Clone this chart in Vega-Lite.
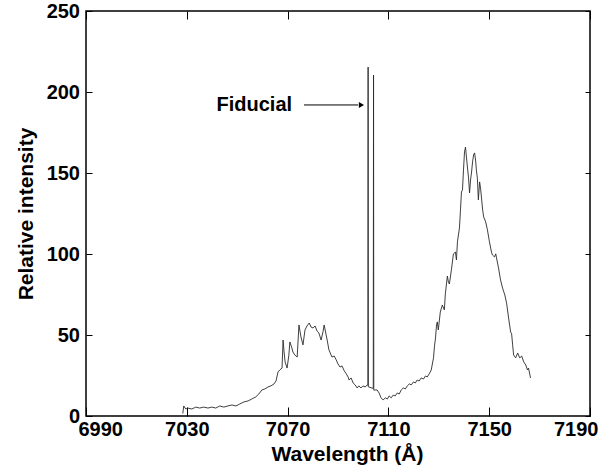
{
  "$schema": "https://vega.github.io/schema/vega-lite/v6.json",
  "autosize": "none",
  "width": 504,
  "height": 405,
  "padding": {"left": 86, "top": 11, "right": 23, "bottom": 51},
  "background": "white",
  "config": {
    "view": {"stroke": "#000", "strokeWidth": 1.5},
    "axis": {
      "labelFont": "Liberation Sans",
      "labelFontWeight": "bold",
      "labelFontSize": 20,
      "labelColor": "#000",
      "titleFont": "Liberation Sans",
      "titleFontWeight": "bold",
      "titleFontSize": 21,
      "titleColor": "#000",
      "tickColor": "#000",
      "domain": false,
      "grid": false
    }
  },
  "datasets": {
    "spectrum": [
      {"w": 7028.4, "i": 1.5}, {"w": 7028.8, "i": 6.2}, {"w": 7029.6, "i": 4.3}, {"w": 7030.4, "i": 4.9},
      {"w": 7032.0, "i": 4.3}, {"w": 7033.6, "i": 5.5}, {"w": 7035.1, "i": 4.9}, {"w": 7036.7, "i": 5.5},
      {"w": 7038.4, "i": 4.9}, {"w": 7039.9, "i": 5.5}, {"w": 7041.5, "i": 4.9}, {"w": 7043.1, "i": 6.2},
      {"w": 7044.7, "i": 5.5}, {"w": 7046.3, "i": 6.2}, {"w": 7047.9, "i": 6.8}, {"w": 7049.5, "i": 6.2},
      {"w": 7051.0, "i": 7.4}, {"w": 7052.7, "i": 8.7}, {"w": 7054.3, "i": 9.3}, {"w": 7055.8, "i": 10.5},
      {"w": 7057.4, "i": 11.8}, {"w": 7058.6, "i": 13.6}, {"w": 7059.8, "i": 16.1}, {"w": 7061.0, "i": 16.7},
      {"w": 7062.2, "i": 17.9}, {"w": 7063.4, "i": 18.6}, {"w": 7064.6, "i": 19.8}, {"w": 7065.4, "i": 21.6},
      {"w": 7066.2, "i": 27.2}, {"w": 7066.9, "i": 28.4}, {"w": 7067.8, "i": 29.6}, {"w": 7068.2, "i": 46.9},
      {"w": 7068.6, "i": 39.5}, {"w": 7069.0, "i": 33.4}, {"w": 7069.8, "i": 29.6}, {"w": 7070.5, "i": 37.6},
      {"w": 7070.9, "i": 45.7}, {"w": 7071.7, "i": 42.0}, {"w": 7072.1, "i": 39.5}, {"w": 7072.9, "i": 37.6},
      {"w": 7073.8, "i": 36.4}, {"w": 7074.5, "i": 56.2}, {"w": 7075.3, "i": 48.8}, {"w": 7076.1, "i": 43.9},
      {"w": 7076.9, "i": 53.1}, {"w": 7077.7, "i": 55.6}, {"w": 7078.6, "i": 57.4}, {"w": 7079.3, "i": 54.9},
      {"w": 7080.1, "i": 54.3}, {"w": 7080.9, "i": 55.6}, {"w": 7081.7, "i": 52.4}, {"w": 7082.4, "i": 51.3},
      {"w": 7083.3, "i": 46.9}, {"w": 7084.1, "i": 52.4}, {"w": 7084.5, "i": 56.2}, {"w": 7085.3, "i": 50.0},
      {"w": 7085.7, "i": 46.9}, {"w": 7086.4, "i": 40.8}, {"w": 7087.6, "i": 36.4}, {"w": 7088.5, "i": 37.0},
      {"w": 7089.3, "i": 34.6}, {"w": 7090.0, "i": 32.1}, {"w": 7090.8, "i": 30.2}, {"w": 7091.6, "i": 30.9},
      {"w": 7092.5, "i": 27.8}, {"w": 7093.3, "i": 26.0}, {"w": 7094.0, "i": 24.1}, {"w": 7094.4, "i": 22.2},
      {"w": 7095.2, "i": 23.5}, {"w": 7096.0, "i": 20.4}, {"w": 7096.8, "i": 19.2}, {"w": 7097.6, "i": 17.3},
      {"w": 7098.3, "i": 18.6}, {"w": 7099.1, "i": 17.3}, {"w": 7099.9, "i": 18.6}, {"w": 7100.8, "i": 17.9},
      {"w": 7101.6, "i": 19.2}, {"w": 7101.85, "i": 19}, {"w": 7101.95, "i": 215.4}, {"w": 7102.05, "i": 18},
      {"w": 7104.0, "i": 17}, {"w": 7104.1, "i": 210.5}, {"w": 7104.2, "i": 16},
      {"w": 7105.5, "i": 16.1}, {"w": 7106.3, "i": 14.2}, {"w": 7107.1, "i": 11.2}, {"w": 7107.9, "i": 9.9},
      {"w": 7108.8, "i": 11.2}, {"w": 7109.6, "i": 10.5}, {"w": 7110.3, "i": 12.4}, {"w": 7111.1, "i": 11.2},
      {"w": 7111.9, "i": 12.9}, {"w": 7112.7, "i": 12.4}, {"w": 7113.5, "i": 14.2}, {"w": 7114.3, "i": 13.6},
      {"w": 7115.1, "i": 16.1}, {"w": 7115.9, "i": 17.3}, {"w": 7116.7, "i": 16.7}, {"w": 7117.5, "i": 18.6},
      {"w": 7118.3, "i": 19.8}, {"w": 7119.1, "i": 19.2}, {"w": 7119.9, "i": 21.0}, {"w": 7120.7, "i": 20.4},
      {"w": 7121.4, "i": 22.2}, {"w": 7122.2, "i": 21.6}, {"w": 7123.0, "i": 23.5}, {"w": 7123.9, "i": 22.8},
      {"w": 7124.7, "i": 24.7}, {"w": 7125.4, "i": 24.1}, {"w": 7126.2, "i": 26.0}, {"w": 7127.0, "i": 28.4},
      {"w": 7127.9, "i": 35.9}, {"w": 7128.3, "i": 43.3}, {"w": 7128.7, "i": 48.2}, {"w": 7129.1, "i": 56.2},
      {"w": 7129.4, "i": 58.1}, {"w": 7129.8, "i": 53.1}, {"w": 7130.6, "i": 64.2}, {"w": 7131.4, "i": 68.5},
      {"w": 7132.2, "i": 65.5}, {"w": 7132.6, "i": 75.4}, {"w": 7133.4, "i": 86.4}, {"w": 7133.8, "i": 82.8},
      {"w": 7134.2, "i": 81.5}, {"w": 7135.0, "i": 90.2}, {"w": 7135.8, "i": 100.1}, {"w": 7136.6, "i": 101.2},
      {"w": 7137.0, "i": 96.3}, {"w": 7137.4, "i": 107.5}, {"w": 7138.2, "i": 116.1}, {"w": 7138.6, "i": 127.2},
      {"w": 7139.0, "i": 138.3}, {"w": 7139.4, "i": 139.6}, {"w": 7139.8, "i": 151.9}, {"w": 7140.2, "i": 163.0},
      {"w": 7140.6, "i": 166.0}, {"w": 7141.0, "i": 159.3}, {"w": 7141.4, "i": 153.1}, {"w": 7141.8, "i": 147.0},
      {"w": 7142.2, "i": 137.7}, {"w": 7142.6, "i": 145.7}, {"w": 7143.0, "i": 150.6}, {"w": 7143.4, "i": 156.8},
      {"w": 7143.8, "i": 161.1}, {"w": 7144.2, "i": 162.4}, {"w": 7144.6, "i": 158.0}, {"w": 7144.9, "i": 151.9},
      {"w": 7145.3, "i": 147.0}, {"w": 7145.7, "i": 133.4}, {"w": 7146.2, "i": 144.5}, {"w": 7146.6, "i": 140.2},
      {"w": 7147.4, "i": 127.2}, {"w": 7147.8, "i": 122.9}, {"w": 7148.6, "i": 119.8}, {"w": 7149.3, "i": 114.9},
      {"w": 7150.1, "i": 107.5}, {"w": 7150.9, "i": 101.2}, {"w": 7151.3, "i": 99.4}, {"w": 7152.1, "i": 98.2},
      {"w": 7152.6, "i": 100.1}, {"w": 7152.9, "i": 97.6}, {"w": 7153.7, "i": 91.4}, {"w": 7154.5, "i": 84.0},
      {"w": 7155.3, "i": 79.0}, {"w": 7156.2, "i": 74.7}, {"w": 7156.9, "i": 69.7}, {"w": 7157.7, "i": 60.5},
      {"w": 7158.5, "i": 51.9}, {"w": 7158.9, "i": 50.7}, {"w": 7159.3, "i": 43.9}, {"w": 7159.7, "i": 37.6},
      {"w": 7160.5, "i": 35.9}, {"w": 7161.3, "i": 38.9}, {"w": 7162.1, "i": 35.9}, {"w": 7162.9, "i": 37.0},
      {"w": 7163.7, "i": 33.4}, {"w": 7164.5, "i": 31.5}, {"w": 7165.2, "i": 28.4}, {"w": 7165.6, "i": 29.6},
      {"w": 7166.4, "i": 23.5}
    ],
    "arrow": [{"w": 7076.5, "w2": 7098.0, "i": 192}],
    "head": [{"w": 7099.3, "i": 192}],
    "label": [{"w": 7041.8, "i": 192, "text": "Fiducial"}]
  },
  "layer": [
    {
      "data": {"name": "spectrum"},
      "mark": {"type": "line", "color": "#2a2a2a", "strokeWidth": 0.9, "interpolate": "linear"},
      "encoding": {
        "x": {
          "field": "w", "type": "quantitative",
          "scale": {"domain": [6990, 7190], "nice": false, "zero": false},
          "axis": {
            "orient": "bottom", "title": "Wavelength (Å)", "format": "d",
            "values": [6990, 7030, 7070, 7110, 7150, 7190],
            "tickSize": -9, "tickWidth": 1, "labelPadding": 12,
            "labelFlush": true, "labelFlushOffset": 8, "titlePadding": 4,
            "titleX": 261, "titleAlign": "center", "titleAnchor": null
          }
        },
        "y": {
          "field": "i", "type": "quantitative",
          "scale": {"domain": [0, 250], "nice": false, "zero": true},
          "axis": {
            "orient": "left", "title": "Relative intensity", "format": "d",
            "values": [0, 50, 100, 150, 200, 250],
            "tickSize": -6, "tickWidth": 1, "labelPadding": 12.5, "titlePadding": 10
          }
        },
        "order": {"field": "w", "type": "quantitative"}
      }
    },
    {
      "data": {"name": "arrow"},
      "mark": {"type": "rule", "color": "#000", "strokeWidth": 1},
      "encoding": {
        "x": {
          "field": "w", "type": "quantitative",
          "axis": {
            "orient": "top", "title": null, "labels": false,
            "values": [6990, 7030, 7070, 7110, 7150, 7190],
            "tickSize": -8, "tickWidth": 1
          }
        },
        "x2": {"field": "w2"},
        "y": {
          "field": "i", "type": "quantitative",
          "axis": {
            "orient": "right", "title": null, "labels": false,
            "values": [0, 50, 100, 150, 200, 250],
            "tickSize": -5, "tickWidth": 1
          }
        }
      }
    },
    {
      "data": {"name": "head"},
      "mark": {"type": "point", "shape": "triangle-right", "filled": true, "color": "#000", "size": 35, "opacity": 1},
      "encoding": {
        "x": {"field": "w", "type": "quantitative", "axis": null},
        "y": {"field": "i", "type": "quantitative", "axis": null}
      }
    },
    {
      "data": {"name": "label"},
      "mark": {"type": "text", "align": "left", "baseline": "middle", "font": "Liberation Sans", "fontWeight": "bold", "fontSize": 20, "color": "#000"},
      "encoding": {
        "x": {"field": "w", "type": "quantitative", "axis": null},
        "y": {"field": "i", "type": "quantitative", "axis": null},
        "text": {"field": "text"}
      }
    }
  ],
  "resolve": {"axis": {"x": "independent", "y": "independent"}}
}
